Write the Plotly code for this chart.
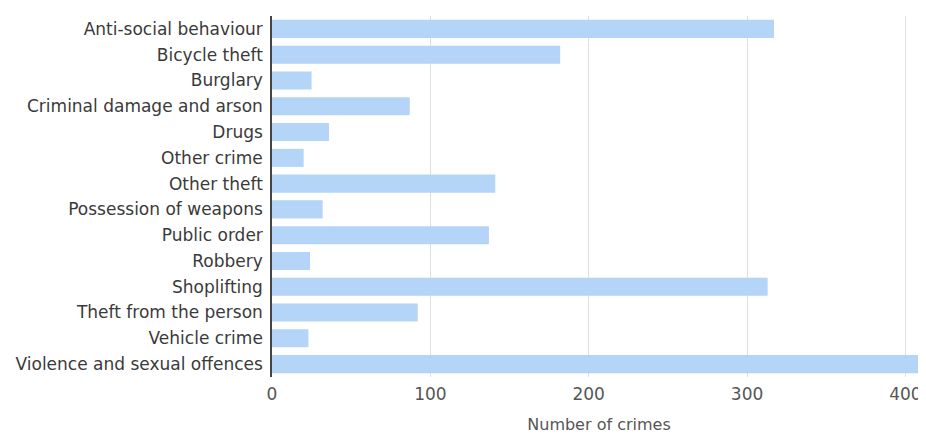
import plotly.graph_objects as go

categories = [
    "Anti-social behaviour", "Bicycle theft", "Burglary", "Criminal damage and arson",
    "Drugs", "Other crime", "Other theft", "Possession of weapons", "Public order",
    "Robbery", "Shoplifting", "Theft from the person", "Vehicle crime",
    "Violence and sexual offences",
]
counts = [317, 182, 25, 87, 36, 20, 141, 32, 137, 24, 313, 92, 23, 425]
x_ticks = [0, 100, 200, 300, 400]

fig = go.Figure(go.Bar(
    y=categories, x=counts, orientation="h",
    marker=dict(color="#b5d5f8", line=dict(width=0)),
))

# page body has an 8px margin, so the figure is shifted by 8px
fig.update_layout(
    width=918, height=426,
    margin=dict(l=264, r=0, t=8, b=57),
    paper_bgcolor="white", plot_bgcolor="white",
    bargap=0.3,
    showlegend=False,
    font=dict(family="DejaVu Sans, sans-serif", size=17, color="#3a3a3a"),
)
fig.update_yaxes(
    autorange="reversed", showline=True, linecolor="#444", linewidth=1.5,
    showgrid=False, ticks="", ticklabelstandoff=4,
    tickfont=dict(size=17, color="#3a3a3a"),
)
fig.update_xaxes(
    range=[0, 413], tickvals=x_ticks, showgrid=True, gridcolor="#dedede",
    zeroline=False, showline=False, ticks="", ticklabelstandoff=5,
    tickfont=dict(size=17, color="#555"),
    title=dict(text="Number of crimes", font=dict(size=16, color="#555"), standoff=15),
)

fig.write_html("out.html")
